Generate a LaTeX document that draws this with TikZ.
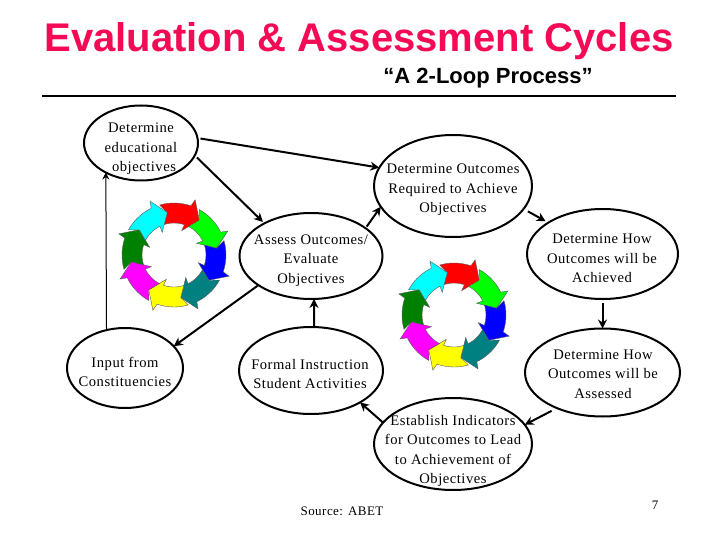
\documentclass[tikz,border=0pt]{standalone}
\usepackage{fontspec}
\usetikzlibrary{shapes.geometric,arrows.meta}
\setmainfont{Liberation Serif}
\newfontfamily\bodyfont[LetterSpace=3.6]{Liberation Serif}
\newfontfamily\headfont{Liberation Sans}
\definecolor{ringred}{RGB}{255,0,0}
\definecolor{ringgreen}{RGB}{0,255,0}
\definecolor{ringblue}{RGB}{0,0,255}
\definecolor{ringteal}{RGB}{0,128,128}
\definecolor{ringyellow}{RGB}{255,255,0}
\definecolor{ringmagenta}{RGB}{255,0,255}
\definecolor{ringdark}{RGB}{0,128,0}
\definecolor{ringcyan}{RGB}{0,255,255}
\definecolor{titlered}{RGB}{245,10,85}
\tikzset{
  bub/.style={draw=black,line width=2pt,ellipse,inner sep=0pt,outer sep=0pt},
  txt/.style={font=\bodyfont\fontsize{14.6}{19.3}\selectfont,align=center,inner sep=0pt,text=black},
  srctxt/.style={font=\bodyfont\fontsize{13}{16}\selectfont,inner sep=0pt,text=black},
  link/.style={draw=black,line width=2pt,-{Stealth[length=9pt,width=9pt]}},
  thinlink/.style={draw=black,line width=1pt,-{Stealth[length=7pt,width=7pt]}},
  ringpart/.style={draw=black!65,line width=.4pt,line join=miter}
}
\newcommand{\ringpiece}[2]{%
  \fill[#2,ringpart] (#1-16:52)
    \foreach \t in {-11,-6,...,14,19} { -- (#1+\t:52) }
    -- (#1+21:59) -- (#1+36:43) -- (#1+17.5:25.5) -- (#1+19:32)
    \foreach \t in {14,9,...,-16,-18} { -- (#1+\t:32) }
    -- (#1-9:43) -- cycle;}
\tikzset{arrowring/.pic={
  \ringpiece{-90}{ringred}
  \ringpiece{-45}{ringgreen}
  \ringpiece{0}{ringblue}
  \ringpiece{45}{ringteal}
  \ringpiece{90}{ringyellow}
  \ringpiece{135}{ringmagenta}
  \ringpiece{180}{ringdark}
  \ringpiece{225}{ringcyan}
}}
\begin{document}
\begin{tikzpicture}[x=1pt,y=-1pt]
\useasboundingbox (0,0) rectangle (720,540);
\fill[white] (0,0) rectangle (720,540);
\node[anchor=base,inner sep=0pt,font=\headfont\bfseries\fontsize{40}{40}\selectfont,text=titlered] (title) at (359,52) {Evaluation \& Assessment Cycles};
\node[anchor=base,inner sep=0pt,font=\headfont\bfseries\fontsize{22}{22}\selectfont] (sub) at (488,84) {“A 2-Loop Process”};
\draw[line width=2.5pt] (42,96) -- (676,96);

\pic at (174,255) {arrowring};
\pic at (454,315) {arrowring};

\node[bub,minimum width=114pt,minimum height=75pt] (e1) at (141,143) {};
\node[bub,minimum width=158pt,minimum height=102pt] (e2) at (453,186) {};
\node[bub,minimum width=151pt,minimum height=90pt] (e3) at (602.5,254) {};
\node[bub,minimum width=143pt,minimum height=86pt] (e4) at (311,256) {};
\node[bub,minimum width=116pt,minimum height=80pt] (e5) at (125,368) {};
\node[bub,minimum width=144pt,minimum height=87pt] (e6) at (311,370.5) {};
\node[bub,minimum width=155pt,minimum height=88pt] (e7) at (602.5,372.5) {};
\node[bub,minimum width=158pt,minimum height=92pt] (e8) at (453,444) {};

\node[txt] (t1) at (141,149) {Determine\\educational\\\hspace*{6pt}objectives};
\node[txt] (t2) at (453,190) {Determine Outcomes\\Required to Achieve\\Objectives};
\node[txt] (t3) at (602,258.5) {Determine How\\Outcomes will be\\Achieved};
\node[txt] (t4) at (311,260.5) {Assess Outcomes/\\Evaluate\\Objectives};
\node[txt] (t5) at (125,372) {Input from\\Constituencies};
\node[txt] (t6) at (310,374) {Formal Instruction\\Student Activities};
\node[txt] (t7) at (603,374) {Determine How\\Outcomes will be\\Assessed};
\node[txt] (t8) at (453,451) {Establish Indicators\\for Outcomes to Lead\\to Achievement of\\Objectives};
\node[srctxt] (src) at (342,511) {Source: ABET};
\node[srctxt] (pg) at (655,505) {7};

\draw[link,shorten <=3pt] (e1.5.6) -- (e2.166.8);
\draw[link,shorten <=3pt,shorten >=2pt] (e1.-13.8) -- (e4.145);
\draw[link,shorten <=2pt] (e4.27.4) -- (e2.196.8);
\draw[link,shorten <=5pt,shorten >=3pt] (e2.-18.2) -- (e3.150.6);
\draw[link,shorten <=4pt] (e3.south) -- (e7.north);
\draw[link,shorten <=6pt] (e7.218) -- (e8.15.3);
\draw[link] (e8.163.5) -- (e6.-33.6);
\draw[link] (e6.86) -- (e4.-86);
\draw[link] (e4.209) -- (e5.24);
\draw[thinlink] (e5.116.1) -- (e1.220.9);
\end{tikzpicture}
\end{document}
